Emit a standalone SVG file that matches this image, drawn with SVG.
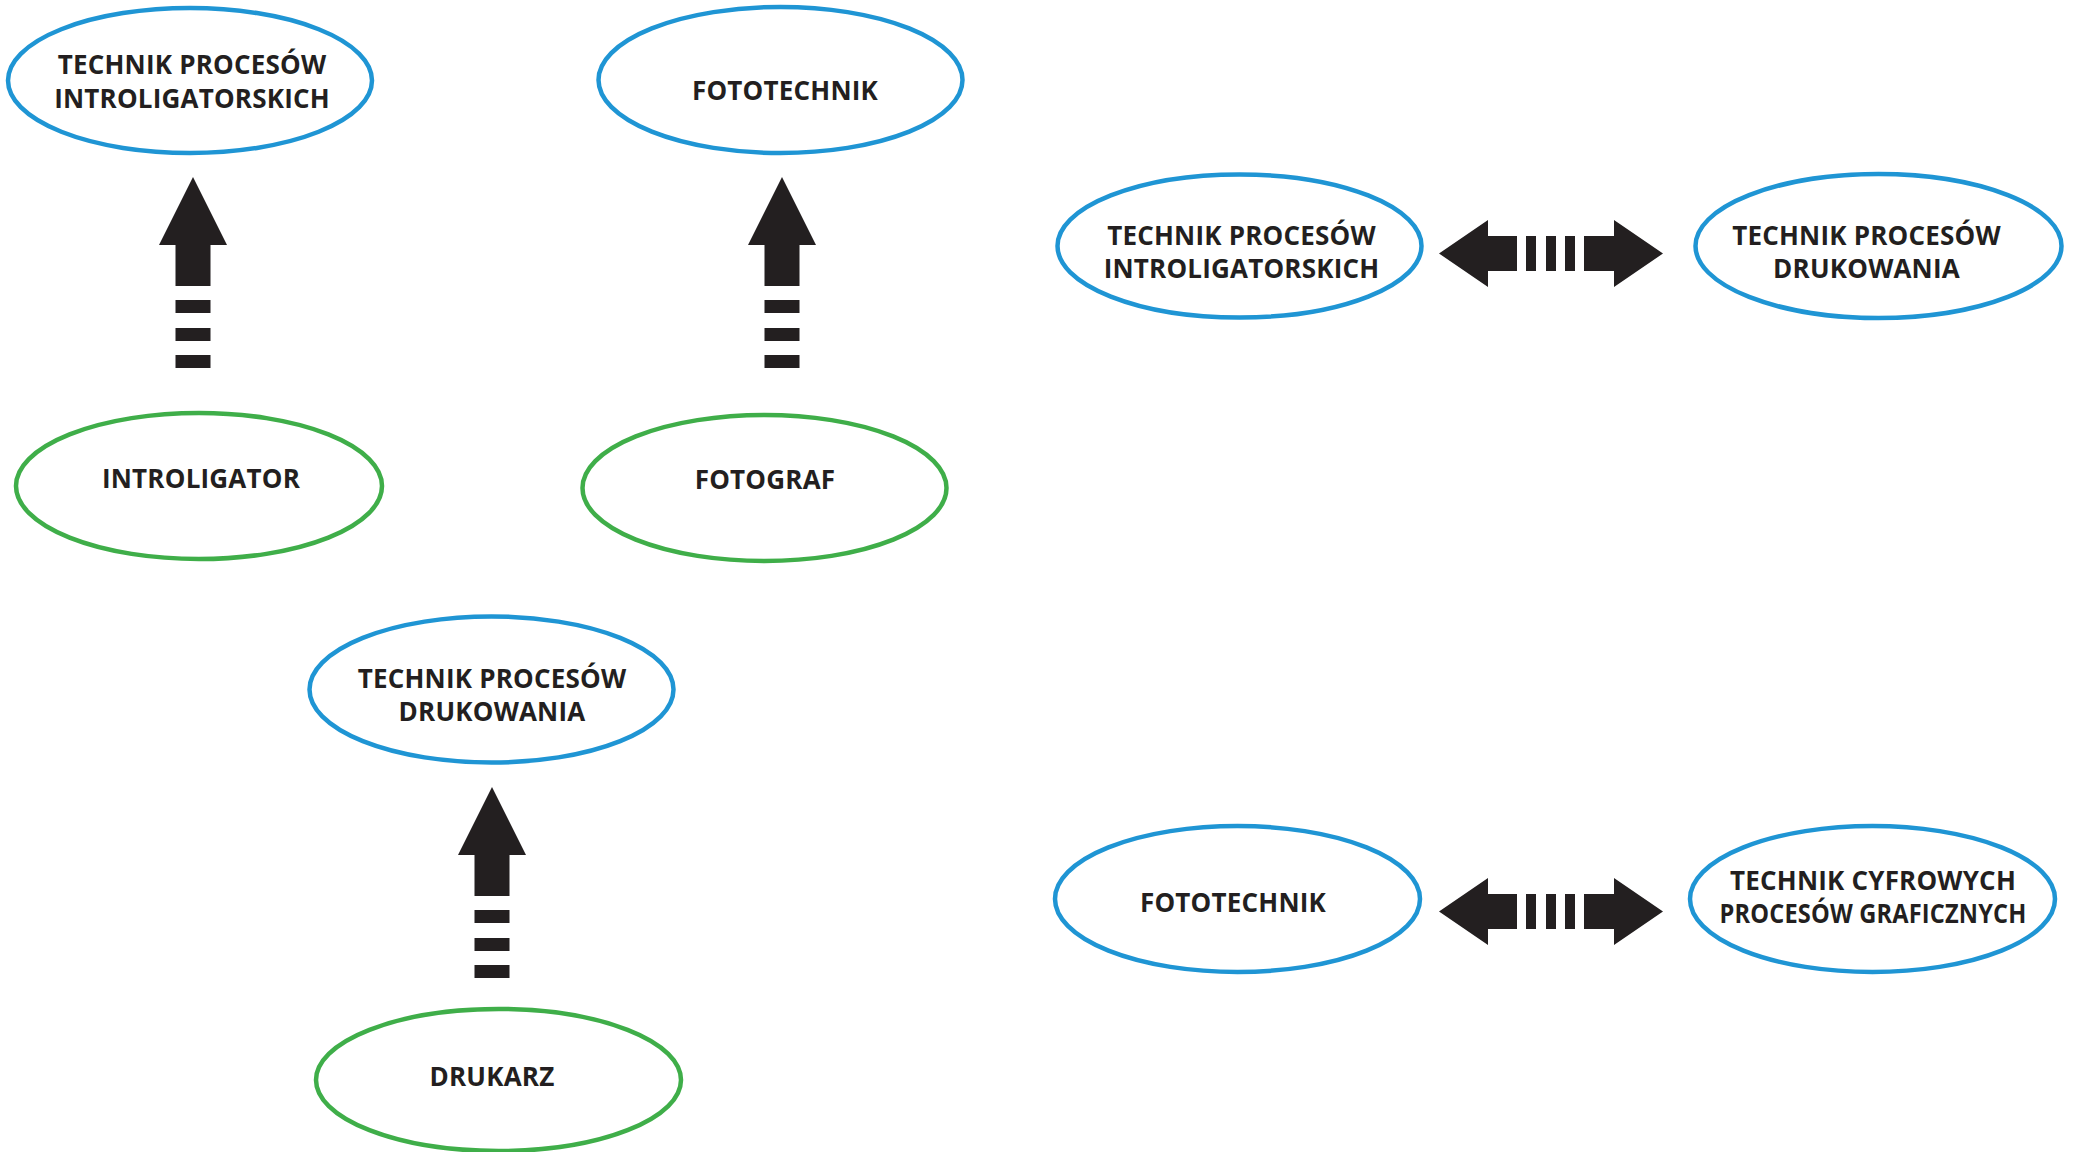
<svg xmlns="http://www.w3.org/2000/svg" xmlns:xlink="http://www.w3.org/1999/xlink" width="2074" height="1152" viewBox="0 0 2074 1152">
<style>
.bg{fill:#ffffff}
.blue{fill:#ffffff;stroke:#1f95d4;stroke-width:4.5}
.green{fill:#ffffff;stroke:#3fae49;stroke-width:4.5}
.t{font-family:"Open Sans","Noto Sans","Liberation Sans",sans-serif;font-weight:700;font-size:26px;letter-spacing:0.2px;fill:#231f20;text-anchor:middle}
.arr{fill:#231f20}
</style>
<defs>
<g id="up">
<path d="M0,0 L34,68 L17.5,68 L17.5,109 L-17.5,109 L-17.5,68 L-34,68 Z"/>
<rect x="-17.5" y="123" width="35" height="13"/>
<rect x="-17.5" y="151" width="35" height="13"/>
<rect x="-17.5" y="178" width="35" height="13"/>
</g>
<g id="both">
<path d="M0,0 L49,-33.5 L49,-17.5 L78,-17.5 L78,17.5 L49,17.5 L49,33.5 Z"/>
<rect x="87" y="-17.5" width="10" height="35"/>
<rect x="107" y="-17.5" width="10" height="35"/>
<rect x="126" y="-17.5" width="10" height="35"/>
<path d="M224,0 L175,-33.5 L175,-17.5 L145,-17.5 L145,17.5 L175,17.5 L175,33.5 Z"/>
</g>
</defs>
<rect class="bg" x="0" y="0" width="2074" height="1152"/>
<g id="connectors" class="arr">
<use xlink:href="#up" transform="translate(193,177)"/>
<use xlink:href="#up" transform="translate(782,177)"/>
<use xlink:href="#up" transform="translate(492,787)"/>
<use xlink:href="#both" transform="translate(1439,253.5)"/>
<use xlink:href="#both" transform="translate(1439,911.5)"/>
</g>
<g id="n1"><ellipse class="blue" cx="190" cy="80.5" rx="182" ry="72.5"/><text class="t" x="192" y="74">TECHNIK PROCESÓW</text><text class="t" x="192" y="108">INTROLIGATORSKICH</text></g>
<g id="n2"><ellipse class="blue" cx="780.5" cy="80" rx="182" ry="73"/><text class="t" x="785" y="100">FOTOTECHNIK</text></g>
<g id="n3"><ellipse class="green" cx="199" cy="486" rx="183" ry="73"/><text class="t" x="201" y="488">INTROLIGATOR</text></g>
<g id="n4"><ellipse class="green" cx="764.5" cy="488" rx="182" ry="73"/><text class="t" x="765" y="489">FOTOGRAF</text></g>
<g id="n5"><ellipse class="blue" cx="491.5" cy="689.5" rx="182" ry="73"/><text class="t" x="492" y="688">TECHNIK PROCESÓW</text><text class="t" x="492" y="721">DRUKOWANIA</text></g>
<g id="n6"><ellipse class="green" cx="498.5" cy="1080" rx="182.5" ry="71"/><text class="t" x="492" y="1086">DRUKARZ</text></g>
<g id="n7"><ellipse class="blue" cx="1239.5" cy="246" rx="182" ry="71.5"/><text class="t" x="1241.5" y="245">TECHNIK PROCESÓW</text><text class="t" x="1241.5" y="278">INTROLIGATORSKICH</text></g>
<g id="n8"><ellipse class="blue" cx="1878.5" cy="246" rx="183" ry="72"/><text class="t" x="1866.5" y="245">TECHNIK PROCESÓW</text><text class="t" x="1866.5" y="278">DRUKOWANIA</text></g>
<g id="n9"><ellipse class="blue" cx="1237.5" cy="899" rx="182.5" ry="73"/><text class="t" x="1233" y="912">FOTOTECHNIK</text></g>
<g id="n10"><ellipse class="blue" cx="1872.5" cy="899" rx="182.5" ry="73"/><text class="t" x="1873" y="890">TECHNIK CYFROWYCH</text><text class="t" x="1873" y="923" textLength="307" lengthAdjust="spacingAndGlyphs">PROCESÓW GRAFICZNYCH</text></g>
</svg>
